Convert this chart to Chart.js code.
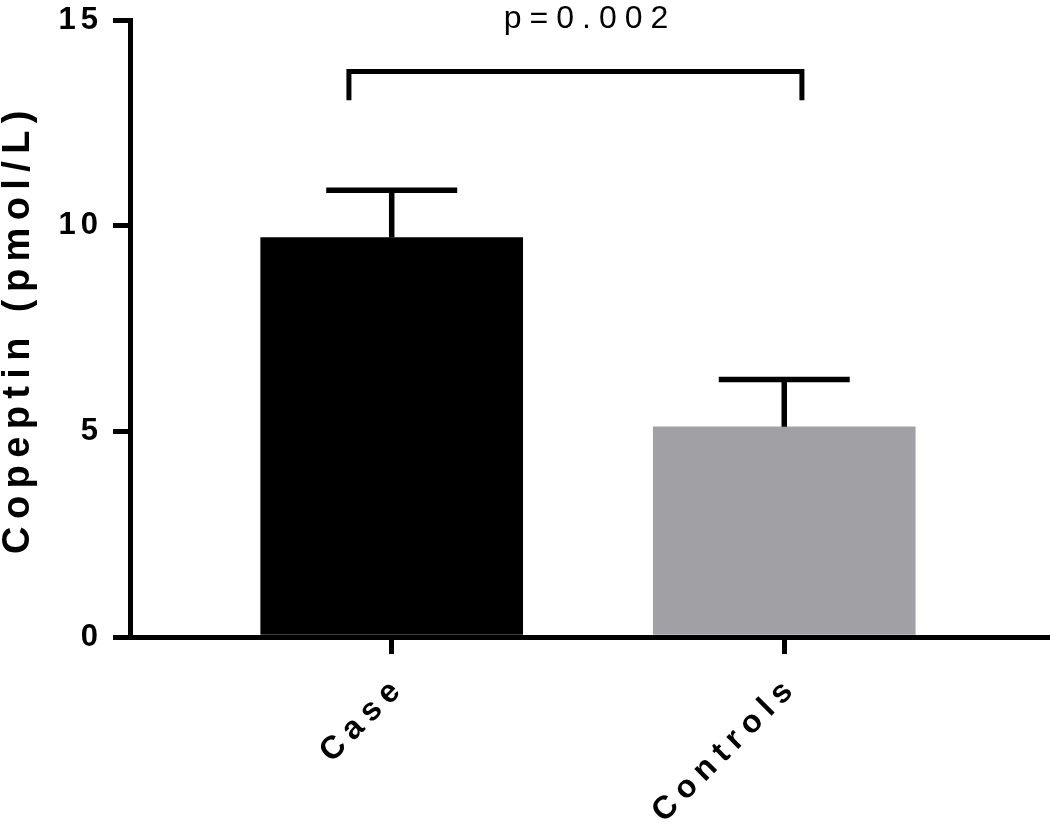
<!DOCTYPE html>
<html><head><meta charset="utf-8">
<script src="https://cdn.jsdelivr.net/npm/chart.js@4"></script>
<style>html,body{margin:0;padding:0;background:#fff;overflow:hidden;}</style>
</head><body>
<canvas id="c" width="1050" height="826"></canvas>
<script>
// ---- data ----
const categories = ['Case', 'Controls'];
const meanValues = [9.71, 5.11];
const errorTops = [10.86, 6.26];
const yTicks = [0, 5, 10, 15];
const pLabel = 'p=0.002';
const barColors = ['#000000', '#a1a0a5'];

const FONT = '"Liberation Sans", Arial, sans-serif';

function withSpacing(scale, method, spacing, dx, dy) {
  const key = '_ls_' + method;
  if (scale[key]) return;
  const orig = scale[method];
  scale[method] = function (...args) {
    const ctx = this.ctx;
    ctx.save();
    ctx.letterSpacing = spacing;
    ctx.translate(dx || 0, dy || 0);
    try { return orig.apply(this, args); } finally { ctx.restore(); }
  };
  scale[key] = true;
}

const spacingPlugin = {
  id: 'spacing',
  beforeDraw(chart) {
    withSpacing(chart.scales.x, 'drawLabels', '7.5px', 9, 6);
    withSpacing(chart.scales.y, 'drawLabels', '5px', 0, 0);
    withSpacing(chart.scales.y, 'drawTitle', '7.4px', -4, 0);
  }
};

const errorBarPlugin = {
  id: 'errorBars',
  afterDatasetsDraw(chart) {
    const ctx = chart.ctx, y = chart.scales.y;
    const meta = chart.getDatasetMeta(0);
    ctx.save();
    ctx.strokeStyle = '#000';
    ctx.lineWidth = 5.5;
    ctx.lineCap = 'butt';
    meta.data.forEach((bar, i) => {
      const yTop = y.getPixelForValue(errorTops[i]);
      const yBase = y.getPixelForValue(meanValues[i]);
      const half = bar.width / 4;
      ctx.beginPath();
      ctx.moveTo(bar.x, yBase);
      ctx.lineTo(bar.x, yTop);
      ctx.moveTo(bar.x - half, yTop);
      ctx.lineTo(bar.x + half, yTop);
      ctx.stroke();
    });
    ctx.restore();
  }
};

const bracketPlugin = {
  id: 'bracket',
  afterDraw(chart) {
    const ctx = chart.ctx, x = chart.scales.x, y = chart.scales.y;
    const xl = x.getPixelForValue(-0.109), xr = x.getPixelForValue(1.045);
    const yb = y.getPixelForValue(13.75), yd = y.getPixelForValue(13.05);
    ctx.save();
    ctx.strokeStyle = '#000';
    ctx.lineWidth = 5;
    ctx.lineJoin = 'miter';
    ctx.lineCap = 'butt';
    ctx.beginPath();
    ctx.moveTo(xl, yd);
    ctx.lineTo(xl, yb);
    ctx.lineTo(xr, yb);
    ctx.lineTo(xr, yd);
    ctx.stroke();
    ctx.font = '32px ' + FONT;
    ctx.letterSpacing = '8px';
    ctx.fillStyle = '#000';
    ctx.textAlign = 'center';
    ctx.textBaseline = 'alphabetic';
    ctx.fillText(pLabel, x.getPixelForValue(0.495) + 4, y.getPixelForValue(14.81));
    ctx.restore();
  }
};

new Chart(document.getElementById('c'), {
  type: 'bar',
  data: {
    datasets: [{
      data: categories.map((c, i) => ({ x: i, y: meanValues[i] })),
      backgroundColor: barColors,
      borderWidth: 0,
      barThickness: 262
    }]
  },
  options: {
    responsive: false,
    animation: false,
    devicePixelRatio: 1,
    layout: { padding: { top: 20, left: 0, right: 0, bottom: 0 } },
    plugins: { legend: { display: false }, tooltip: { enabled: false } },
    scales: {
      x: {
        type: 'linear',
        min: -0.6667,
        max: 1.677,
        offset: false,
        afterBuildTicks: s => { s.ticks = categories.map((c, i) => ({ value: i })); },
        afterFit: s => { s.height = 189; s.paddingLeft = 0; s.paddingRight = 0; },
        ticks: {
          autoSkip: false,
          minRotation: 45,
          maxRotation: 45,
          padding: 8,
          color: '#000',
          font: { family: FONT, weight: 'bold', size: 32 },
          callback: v => categories[v] ?? ''
        },
        grid: {
          drawOnChartArea: false, drawTicks: true, offset: false,
          tickLength: 17, tickWidth: 5, tickColor: '#000', lineWidth: 5, color: '#000'
        },
        border: { display: true, width: 5, color: '#000' }
      },
      y: {
        type: 'linear',
        min: 0,
        max: 15,
        afterBuildTicks: s => { s.ticks = yTicks.map(v => ({ value: v })); },
        afterFit: s => { s.width = 130; s.paddingTop = 0; s.paddingBottom = 0; },
        ticks: {
          padding: 10,
          color: '#000',
          font: { family: FONT, weight: 'bold', size: 31 }
        },
        grid: {
          drawOnChartArea: false, drawTicks: true,
          tickLength: 17, tickWidth: 5, tickColor: '#000', lineWidth: 5, color: '#000'
        },
        border: { display: true, width: 5, color: '#000' },
        title: {
          display: true,
          text: 'Copeptin (pmol/L)',
          color: '#000',
          font: { family: FONT, weight: 'bold', size: 38 },
          padding: { top: 0, bottom: 0 }
        }
      }
    }
  },
  plugins: [spacingPlugin, errorBarPlugin, bracketPlugin]
});
</script>
</body></html>
